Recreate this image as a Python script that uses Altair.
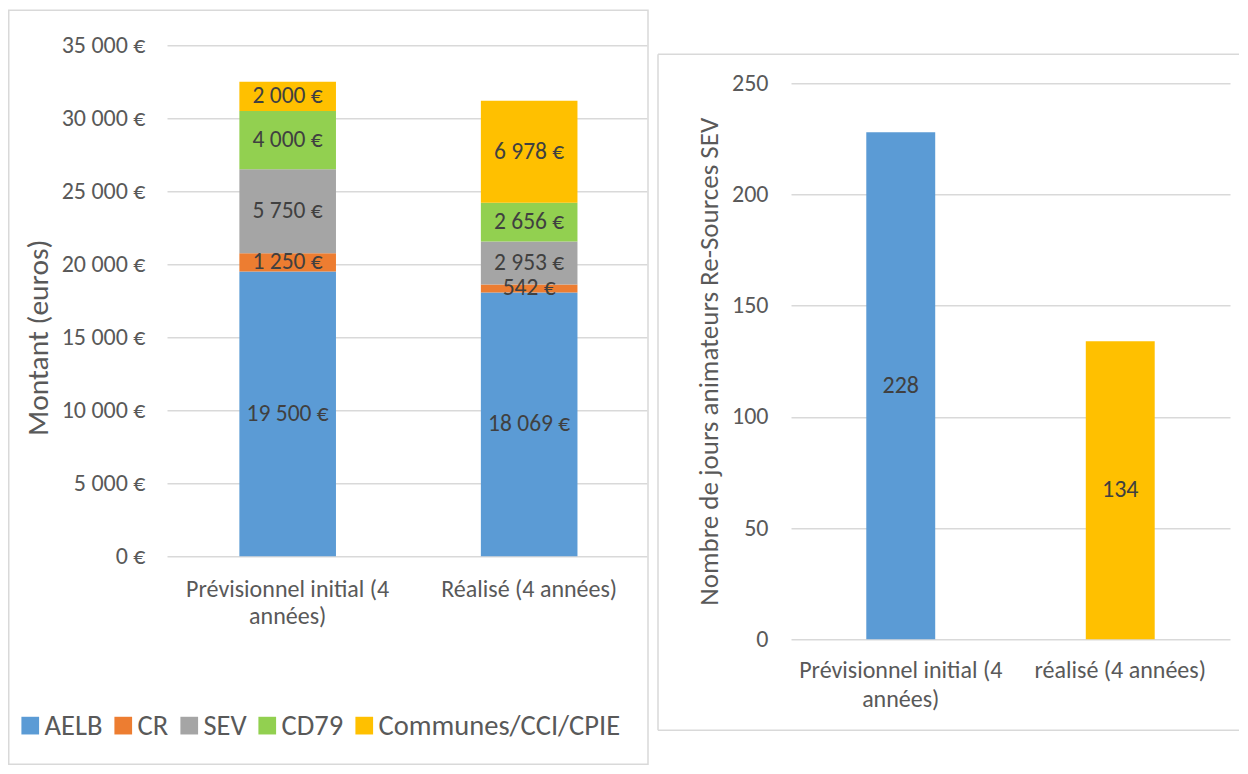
import altair as alt
import pandas as pd

# ---------------- data ----------------
categories = ["Prévisionnel initial (4 années)", "Réalisé (4 années)"]
sources = ["AELB", "CR", "SEV", "CD79", "Communes/CCI/CPIE"]
prev_values = [19500, 1250, 5750, 4000, 2000]
real_values = [18069, 542, 2953, 2656, 6978]
euro_ticks = [0, 5000, 10000, 15000, 20000, 25000, 30000, 35000]

days_categories = ["Prévisionnel initial (4 années)", "réalisé (4 années)"]
days_values = [228, 134]
days_ticks = [0, 50, 100, 150, 200, 250]

# ---------------- styles ----------------
source_colors = ["#5B9BD5", "#ED7D31", "#A5A5A5", "#92D050", "#FFC000"]
days_colors = ["#5B9BD5", "#FFC000"]
FONT = "Carlito, Lato, 'Open Sans', sans-serif"
GRID = "#D9D9D9"
AXIS_TXT = "#595959"
LABEL_TXT = "#404040"
FS = 24
WRAP = ("length(datum.label) > 20 ? [slice(datum.label, 0, lastindexof(datum.label, ' ')), "
        "slice(datum.label, lastindexof(datum.label, ' ') + 1)] : datum.label")

# ---------------- left chart: stacked amounts ----------------
rows = []
for cat, vals in zip(categories, [prev_values, real_values]):
    cum = 0
    for i, (src, v) in enumerate(zip(sources, vals)):
        rows.append({"categorie": cat, "source": src, "ordre": i, "montant": v,
                     "debut": cum, "fin": cum + v, "milieu": cum + v / 2})
        cum += v
df_left = pd.DataFrame(rows)

x_left_scale = alt.Scale(paddingInner=0.6, paddingOuter=0.2938, align=0.51)
x_left_axis = alt.Axis(labelAngle=0, ticks=False, domain=False, labelFontSize=FS,
                       labelColor=AXIS_TXT, labelFont=FONT, labelPadding=21,
                       labelLineHeight=27, labelExpr=WRAP, labelLimit=400)
y_left_scale = alt.Scale(domain=[0, 35000], nice=False, zero=True)
y_left_axis = alt.Axis(values=euro_ticks, format="$,.0f", ticks=False, domain=False,
                       grid=True, gridColor=GRID, gridWidth=1.3,
                       labelFontSize=FS, labelColor=AXIS_TXT, labelFont=FONT, labelPadding=22,
                       titleFontSize=29.5, titleColor=AXIS_TXT, titleFont=FONT,
                       titleFontWeight="normal", titleX=-128.5, titleY=292,
                       titleBaseline="middle", titleAngle=270)

frame_left = alt.Chart(pd.DataFrame({"k": [0]})).mark_rect(
    fillOpacity=0, stroke=GRID, strokeWidth=1.5
).encode(x=alt.value(-158.25), x2=alt.value(481), y=alt.value(-35), y2=alt.value(719))

bars_left = alt.Chart(df_left).mark_bar().encode(
    x=alt.X("categorie:N", sort=categories, title=None, scale=x_left_scale, axis=x_left_axis),
    y=alt.Y("debut:Q", title="Montant (euros)", scale=y_left_scale, axis=y_left_axis),
    y2="fin:Q",
    color=alt.Color("source:N", sort=sources,
                    scale=alt.Scale(domain=sources, range=source_colors),
                    legend=alt.Legend(orient="none", legendX=-151, legendY=666,
                                      direction="horizontal", title=None,
                                      symbolType="square", symbolSize=313,
                                      symbolStrokeWidth=0, symbolOpacity=1,
                                      labelFontSize=28.5, labelColor=AXIS_TXT,
                                      labelFont=FONT, labelOffset=0, labelLimit=500,
                                      columnPadding=6, padding=0)),
)

labels_left = alt.Chart(df_left).mark_text(
    fontSize=23.5, color=LABEL_TXT, font=FONT, baseline="middle", align="center"
).encode(
    x=alt.X("categorie:N", sort=categories, title=None),
    y=alt.Y("milieu:Q", title="Montant (euros)"),
    text=alt.Text("montant:Q", format="$,.0f"),
)

left = alt.layer(frame_left, bars_left, labels_left).properties(width=480, height=511)

# ---------------- right chart: days ----------------
df_right = pd.DataFrame({"categorie": days_categories, "jours": days_values})
RTITLE = "Nombre de jours  animateurs Re-Sources SEV"

x_right_scale = alt.Scale(paddingInner=0.686, paddingOuter=0.343)
x_right_axis = alt.Axis(labelAngle=0, ticks=False, domain=False, labelFontSize=FS,
                        labelColor=AXIS_TXT, labelFont=FONT, labelPadding=19,
                        labelLineHeight=29, labelExpr=WRAP, labelLimit=400)
y_right_scale = alt.Scale(domain=[0, 267.09], nice=False, zero=True)
y_right_axis = alt.Axis(values=days_ticks, format="d", ticks=False, domain=False,
                        grid=True, gridColor=GRID, gridWidth=1.3,
                        labelFontSize=FS, labelColor=AXIS_TXT, labelFont=FONT, labelPadding=23,
                        titleFontSize=27, titleColor=AXIS_TXT, titleFont=FONT,
                        titleFontWeight="normal", titleX=-82, titleY=316,
                        titleBaseline="middle", titleAngle=270)

one = pd.DataFrame({"k": [0]})
rule_style = dict(stroke=GRID, strokeWidth=1.5)
frame_r_top = alt.Chart(one).mark_rule(**rule_style).encode(
    x=alt.value(-133), x2=alt.value(448), y=alt.value(9))
frame_r_left = alt.Chart(one).mark_rule(**rule_style).encode(
    x=alt.value(-133), y=alt.value(9), y2=alt.value(685))
frame_r_bottom = alt.Chart(one).mark_rule(**rule_style).encode(
    x=alt.value(-133), x2=alt.value(448), y=alt.value(685))

bars_right = alt.Chart(df_right).mark_bar().encode(
    x=alt.X("categorie:N", sort=days_categories, title=None, scale=x_right_scale, axis=x_right_axis),
    y=alt.Y("jours:Q", title=RTITLE, scale=y_right_scale, axis=y_right_axis),
    color=alt.Color("categorie:N", scale=alt.Scale(domain=days_categories, range=days_colors),
                    legend=None),
)
labels_right = alt.Chart(df_right).transform_calculate(
    milieu="datum.jours / 2"
).mark_text(fontSize=FS, color=LABEL_TXT, font=FONT, baseline="middle", align="center").encode(
    x=alt.X("categorie:N", sort=days_categories, title=None),
    y=alt.Y("milieu:Q", title=RTITLE),
    text=alt.Text("jours:Q", format="d"),
)

right = alt.layer(frame_r_top, frame_r_left, frame_r_bottom, bars_right, labels_right).properties(
    width=439, height=594)

chart = alt.hconcat(
    left, right, spacing=144, bounds="flush",
    padding={"left": 0, "top": 1.25, "right": 0, "bottom": 0},
).resolve_scale(
    color="independent", x="independent", y="independent"
).configure(
    background="white", font=FONT,
    locale={"number": {"decimal": ",", "thousands": " ", "grouping": [3],
                       "currency": ["", " €"]}},
).configure_view(stroke=None)

chart.save("out.html", embed_options={"renderer": "svg", "actions": False})
